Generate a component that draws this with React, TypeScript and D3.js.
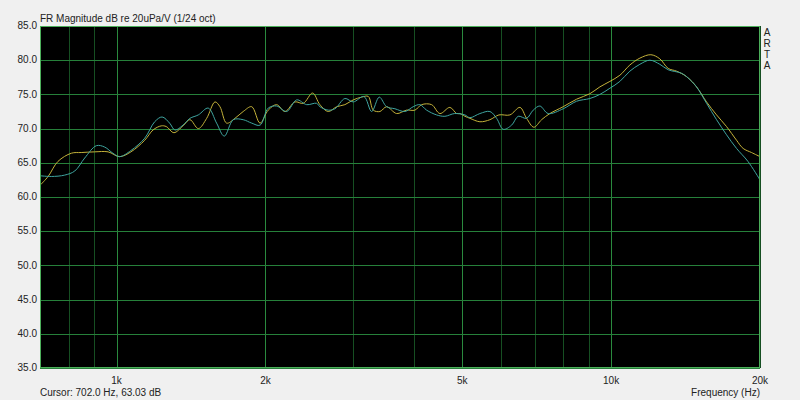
import React from "react";
import * as d3 from "d3";

// Yellow trace (frequency Hz, level dB)
const yellowFreq = [702, 727, 761, 810, 848, 903, 961, 1014, 1069, 1140, 1185, 1231, 1260, 1306, 1362, 1407, 1463, 1521, 1581, 1618, 1669, 1735, 1803, 1876, 1950, 2026, 2107, 2190, 2294, 2385, 2491, 2577, 2679, 2786, 2895, 3010, 3130, 3228, 3304, 3408, 3516, 3683, 3858, 4011, 4138, 4335, 4506, 4720, 4870, 4946, 5062, 5182, 5428, 5687, 5930, 6242, 6540, 6746, 6979, 7234, 7519, 8000, 8514, 9058, 9490, 9942, 10416, 10912, 11431, 12032, 12546, 13042, 13563, 14207, 14885, 15594, 16337, 17114, 17930, 18490, 19229, 20000];
const yellowDb = [61.8, 63.0, 65.2, 66.4, 66.5, 66.6, 66.6, 65.9, 66.6, 68.3, 69.8, 70.4, 70.3, 69.4, 70.4, 71.3, 70.0, 71.5, 73.9, 73.2, 70.8, 71.5, 72.5, 73.2, 70.8, 72.7, 73.5, 72.5, 73.9, 73.7, 75.2, 73.5, 72.5, 73.2, 73.5, 74.2, 74.6, 74.7, 72.7, 72.5, 73.2, 72.2, 72.7, 72.7, 73.5, 73.5, 72.2, 73.1, 72.2, 72.2, 71.8, 71.5, 71.0, 71.3, 72.0, 72.0, 73.1, 71.5, 70.2, 71.3, 72.2, 73.2, 74.3, 75.1, 76.1, 76.9, 77.8, 79.3, 80.3, 80.8, 80.2, 78.8, 78.4, 77.6, 76.1, 73.9, 72.0, 70.3, 68.3, 67.1, 66.5, 65.9];

// Teal trace (frequency Hz, level dB)
const tealFreq = [702, 738, 785, 823, 862, 910, 946, 983, 1014, 1069, 1140, 1194, 1236, 1280, 1312, 1362, 1407, 1463, 1532, 1593, 1651, 1722, 1803, 1876, 1950, 2026, 2107, 2207, 2313, 2423, 2538, 2577, 2679, 2764, 2895, 3010, 3163, 3279, 3397, 3516, 3654, 3828, 3979, 4105, 4235, 4437, 4612, 4825, 5062, 5182, 5428, 5687, 5867, 6050, 6291, 6488, 6746, 6957, 7177, 7460, 8000, 8514, 9058, 9490, 9942, 10416, 10912, 11431, 11976, 12546, 13042, 13866, 14313, 14885, 15594, 16337, 17114, 17930, 18910, 20000];
const tealDb = [63.1, 63.0, 63.2, 63.8, 65.7, 67.5, 67.3, 66.4, 65.9, 66.8, 68.6, 71.0, 71.7, 70.8, 69.8, 70.5, 71.5, 72.0, 73.0, 70.8, 68.9, 71.3, 71.3, 70.8, 70.5, 73.0, 73.3, 72.5, 74.2, 73.5, 73.7, 73.2, 72.7, 72.9, 74.4, 73.9, 74.7, 72.5, 74.6, 73.2, 72.9, 72.5, 73.2, 73.5, 72.7, 72.0, 71.8, 72.2, 72.0, 71.6, 72.2, 72.5, 71.5, 69.9, 70.5, 71.8, 71.5, 72.7, 73.3, 72.2, 72.9, 74.0, 74.4, 75.0, 75.9, 76.9, 78.4, 79.4, 80.0, 79.4, 78.6, 78.1, 77.4, 76.1, 73.7, 71.3, 69.1, 67.1, 65.2, 62.5];

const yTicks = [85, 80, 75, 70, 65, 60, 55, 50, 45, 40, 35];
const xGrid = [800, 900, 1000, 2000, 3000, 4000, 5000, 6000, 7000, 8000, 9000, 10000, 20000];
const xMajor = [1000, 2000, 5000, 10000];
const xTickLabels = [
  { f: 1000, label: "1k" },
  { f: 2000, label: "2k" },
  { f: 5000, label: "5k" },
  { f: 10000, label: "10k" },
  { f: 20000, label: "20k" },
];
const title = "FR Magnitude dB re 20uPa/V (1/24 oct)";
const cursorText = "Cursor: 702.0 Hz, 63.03 dB";
const xAxisTitle = "Frequency (Hz)";
const brand = "ARTA";

export default function App() {
  const W = 800, H = 400;
  const L = 40, R = 760, T = 26, B = 368;
  const x = d3.scaleLog().domain([700, 20000]).range([L, R]);
  const y = d3.scaleLinear().domain([35, 85]).range([B, T]);
  const line = d3
    .line<[number, number]>()
    .x((d) => x(d[0]))
    .y((d) => y(d[1]))
    .curve(d3.curveCatmullRom.alpha(0.5));
  const yellow = yellowFreq.map((f, i) => [f, yellowDb[i]] as [number, number]);
  const teal = tealFreq.map((f, i) => [f, tealDb[i]] as [number, number]);
  const font = "'Liberation Sans', Arial, sans-serif";
  const fs = 10;
  return (
    <div style={{ position: "fixed", left: 0, top: 0, width: W, height: H }}>
      <svg width={W} height={H} style={{ display: "block" }} fontFamily={font}>
        <rect x={0} y={0} width={W} height={H} fill="#f0f0f0" />
        <defs>
          <clipPath id="plot">
            <rect x={L} y={T} width={R - L} height={B - T} />
          </clipPath>
        </defs>
        <rect x={L} y={T} width={R - L} height={B - T} fill="#000" />
        {xGrid.map((f) => (
          <line
            key={"vx" + f}
            x1={Math.round(x(f)) + 0.5}
            x2={Math.round(x(f)) + 0.5}
            y1={T}
            y2={B}
            stroke={xMajor.includes(f) ? "#2a8a3e" : "#164f22"}
            strokeWidth={1}
          />
        ))}
        {yTicks.map((v) => (
          <line
            key={"hy" + v}
            x1={L}
            x2={R}
            y1={Math.round(y(v)) + 0.5}
            y2={Math.round(y(v)) + 0.5}
            stroke="#26803a"
            strokeWidth={1}
          />
        ))}
        <g clipPath="url(#plot)">
          <path d={line(yellow) || ""} fill="none" stroke="#c4b23a" strokeWidth={1} />
          <path d={line(teal) || ""} fill="none" stroke="#3fa5a0" strokeWidth={1} />
        </g>
        <rect x={L + 0.5} y={T + 0.5} width={R - L - 1} height={B - T - 1} fill="none" stroke="#4caf5a" strokeWidth={1} />
        {yTicks.map((v) => (
          <text key={"ty" + v} x={37} y={y(v)} dy="0.32em" textAnchor="end" fontSize={fs} fill="#222">
            {v.toFixed(1)}
          </text>
        ))}
        {xTickLabels.map((t) => (
          <text key={"tx" + t.label} x={x(t.f)} y={384} textAnchor="middle" fontSize={fs} fill="#222">
            {t.label}
          </text>
        ))}
        <text x={40} y={22} fontSize={fs} fill="#222">{title}</text>
        <text x={40} y={396} fontSize={fs} fill="#222">{cursorText}</text>
        <text x={760} y={396} textAnchor="end" fontSize={fs} fill="#222">{xAxisTitle}</text>
        <text
          x={767}
          y={27}
          fontSize={fs}
          fill="#222"
          style={{ writingMode: "vertical-lr", textOrientation: "upright" } as React.CSSProperties}
        >
          {brand}
        </text>
      </svg>
    </div>
  );
}
